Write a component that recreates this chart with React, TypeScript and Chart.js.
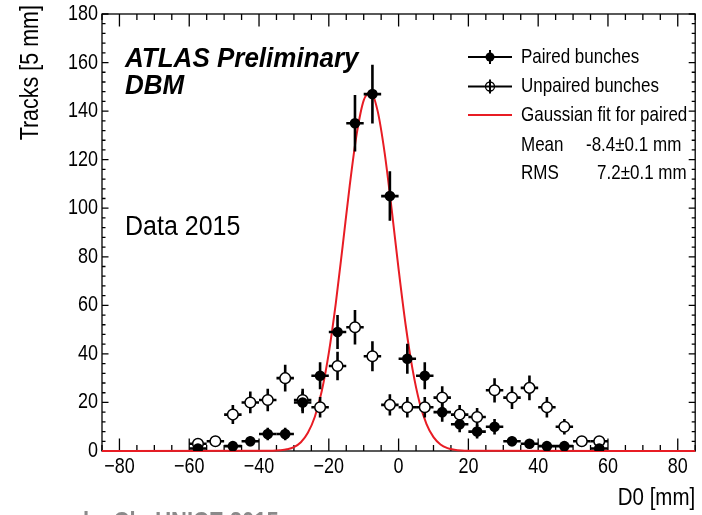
import React, { useEffect, useRef } from "react";
import { Chart, registerables } from "chart.js";

Chart.register(...registerables);

// ---- data ----
const BIN_CENTERS = [
  -57.5, -52.5, -47.5, -42.5, -37.5, -32.5, -27.5, -22.5, -17.5, -12.5, -7.5, -2.5,
  2.5, 7.5, 12.5, 17.5, 22.5, 27.5, 32.5, 37.5, 42.5, 47.5, 52.5, 57.5,
];
const BIN_HALF_WIDTH = 2.5;
const PAIRED = [1, null, 2, 4, 7, 7, 20, 31, 49, 135, 147, 105, 38, 31, 16, 11, 8, 10, 4, 3, 2, 2, null, 1];
const PAIRED_ERR = [1, null, 1.4, 2, 2.6, 2.6, 4.5, 5.6, 7, 11.6, 12.1, 10.2, 6.2, 5.6, 4, 3.3, 2.8, 3.2, 2, 1.7, 1.4, 1.4, null, 1];
const UNPAIRED = [3, 4, 15, 20, 21, 30, 21, 18, 35, 51, 39, 19, 18, 18, 22, 15, 14, 25, 22, 26, 18, 10, 4, 4];
const UNPAIRED_ERR = [1.7, 2, 3.9, 4.5, 4.6, 5.5, 4.6, 4.2, 5.9, 7.1, 6.2, 4.4, 4.2, 4.2, 4.7, 3.9, 3.7, 5, 4.7, 5.1, 4.2, 3.2, 2, 2];

const FIT_X = [-85, -36, -34, -32, -30, -28, -26, -24, -22, -20, -18, -16, -14, -12, -10, -8, -6, -4, -2, 0, 2, 4, 6, 8, 10, 12, 14, 16, 18, 20, 85];
const FIT_Y = [0, 0.1, 0.3, 0.7, 1.6, 3.6, 7.5, 14.1, 24.8, 40.4, 60.8, 84.8, 109.4, 130.6, 144.4, 147.8, 140.0, 122.8, 99.7, 74.9, 52.1, 33.6, 20.0, 11.1, 5.7, 2.7, 1.2, 0.5, 0.2, 0.1, 0];

const X_TICKS = [-80, -60, -40, -20, 0, 20, 40, 60, 80];
const Y_TICKS = [0, 20, 40, 60, 80, 100, 120, 140, 160, 180];
const X_MINOR_STEP = 5;
const Y_MINOR_STEP = 4;

const LEGEND_LABELS = ["Paired bunches", "Unpaired bunches", "Gaussian fit for paired"];
const FIT_STATS = [
  ["Mean", "-8.4\u00b10.1 mm"],
  ["RMS", "7.2\u00b10.1 mm"],
];

const FONT = "'Liberation Sans', Arial, Helvetica, sans-serif";
const RED = "rgb(232,28,36)";

function txt(
  ctx: CanvasRenderingContext2D,
  s: string,
  x: number,
  y: number,
  font: string,
  align: CanvasTextAlign = "left",
  stretch = 1.2,
  rot = 0,
  color = "#000"
) {
  ctx.save();
  ctx.translate(x, y);
  if (rot) ctx.rotate(rot);
  ctx.scale(1, stretch);
  ctx.font = font;
  ctx.textAlign = align;
  ctx.textBaseline = "middle";
  ctx.fillStyle = color;
  ctx.fillText(s, 0, 0);
  ctx.restore();
}

function drawErrorBars(chart: any) {
  const ctx = chart.ctx as CanvasRenderingContext2D;
  const xs = chart.scales.x;
  const ys = chart.scales.y;
  ctx.save();
  ctx.strokeStyle = "#000";
  ctx.lineWidth = 2.6;
  ctx.lineCap = "butt";
  const sets: [any[], any[]][] = [
    [UNPAIRED, UNPAIRED_ERR],
    [PAIRED, PAIRED_ERR],
  ];
  for (const [vals, errs] of sets) {
    vals.forEach((v: number | null, i: number) => {
      if (v === null || v === undefined) return;
      const e = errs[i] as number;
      const cx = xs.getPixelForValue(BIN_CENTERS[i]);
      const x0 = xs.getPixelForValue(BIN_CENTERS[i] - BIN_HALF_WIDTH);
      const x1 = xs.getPixelForValue(BIN_CENTERS[i] + BIN_HALF_WIDTH);
      const cy = ys.getPixelForValue(v);
      const y0 = ys.getPixelForValue(Math.max(0, v - e));
      const y1 = ys.getPixelForValue(v + e);
      ctx.beginPath();
      ctx.moveTo(x0, cy);
      ctx.lineTo(x1, cy);
      ctx.moveTo(cx, y0);
      ctx.lineTo(cx, y1);
      ctx.stroke();
    });
  }
  ctx.restore();
}

const framePlugin = {
  id: "rootFrame",
  beforeDatasetsDraw(chart: any) {
    const ctx = chart.ctx as CanvasRenderingContext2D;
    const { left, right, top, bottom } = chart.chartArea;
    const xs = chart.scales.x;
    const ys = chart.scales.y;
    ctx.save();
    ctx.strokeStyle = "#000";
    ctx.lineWidth = 1.3;
    ctx.strokeRect(left, top, right - left, bottom - top);
    ctx.beginPath();
    for (let v = xs.min; v <= xs.max + 1e-6; v += X_MINOR_STEP) {
      const r = Math.round(v);
      if (r % X_MINOR_STEP !== 0) continue;
      const px = xs.getPixelForValue(r);
      const major = X_TICKS.includes(r);
      const len = major ? 12.5 : 6;
      ctx.moveTo(px, bottom);
      ctx.lineTo(px, bottom - len);
      ctx.moveTo(px, top);
      ctx.lineTo(px, top + len);
    }
    for (let v = ys.min; v <= ys.max + 1e-6; v += Y_MINOR_STEP) {
      const py = ys.getPixelForValue(v);
      const major = Y_TICKS.includes(v);
      const len = major ? 6.5 : 3.5;
      ctx.moveTo(left, py);
      ctx.lineTo(left + len, py);
      ctx.moveTo(right, py);
      ctx.lineTo(right - len, py);
    }
    ctx.stroke();
    ctx.restore();
  },
  afterDatasetDraw(chart: any, args: any) {
    if (args.index === 2) drawErrorBars(chart);
  },
  afterDraw(chart: any) {
    const ctx = chart.ctx as CanvasRenderingContext2D;
    const { left, right, bottom } = chart.chartArea;
    const xs = chart.scales.x;
    const ys = chart.scales.y;
    for (const t of X_TICKS) {
      const lab = t < 0 ? "\u2212" + Math.abs(t) : String(t);
      txt(ctx, lab, xs.getPixelForValue(t), bottom + 16, `18px ${FONT}`, "center");
    }
    for (const t of Y_TICKS) {
      txt(ctx, String(t), left - 4, ys.getPixelForValue(t), `18px ${FONT}`, "right");
    }
    txt(ctx, "D0 [mm]", right, 498, `20.5px ${FONT}`, "right");
    txt(ctx, "Tracks [5 mm]", 31, 5, `21.5px ${FONT}`, "right", 1.2, -Math.PI / 2);

    txt(ctx, "ATLAS Preliminary", 125, 59, `italic bold 26px ${FONT}`, "left", 1.05);
    txt(ctx, "DBM", 125, 86, `italic bold 26px ${FONT}`, "left", 1.05);
    txt(ctx, "Data 2015", 125, 227, `25px ${FONT}`, "left", 1.1);

    const lx0 = 468;
    const lx1 = 512;
    const lmx = 490;
    const ly = [57, 86.5, 115];
    ctx.save();
    ctx.strokeStyle = "#000";
    ctx.lineWidth = 2;
    ctx.beginPath();
    ctx.moveTo(lx0, ly[0]);
    ctx.lineTo(lx1, ly[0]);
    ctx.moveTo(lmx, ly[0] - 7);
    ctx.lineTo(lmx, ly[0] + 7);
    ctx.stroke();
    ctx.beginPath();
    ctx.arc(lmx, ly[0], 4.5, 0, Math.PI * 2);
    ctx.fillStyle = "#000";
    ctx.fill();
    ctx.beginPath();
    ctx.moveTo(lx0, ly[1]);
    ctx.lineTo(lx1, ly[1]);
    ctx.moveTo(lmx, ly[1] - 7);
    ctx.lineTo(lmx, ly[1] + 7);
    ctx.stroke();
    ctx.beginPath();
    ctx.lineWidth = 1.3;
    ctx.arc(lmx, ly[1], 4.5, 0, Math.PI * 2);
    ctx.stroke();
    ctx.beginPath();
    ctx.strokeStyle = RED;
    ctx.lineWidth = 2;
    ctx.moveTo(lx0, ly[2]);
    ctx.lineTo(lx1, ly[2]);
    ctx.stroke();
    ctx.restore();
    LEGEND_LABELS.forEach((s, i) => txt(ctx, s, 521, ly[i], `17px ${FONT}`));
    txt(ctx, FIT_STATS[0][0], 521, 145, `17px ${FONT}`);
    txt(ctx, FIT_STATS[0][1], 586, 145, `17px ${FONT}`);
    txt(ctx, FIT_STATS[1][0], 521, 173, `17px ${FONT}`);
    txt(ctx, FIT_STATS[1][1], 597, 173, `17px ${FONT}`);

    txt(ctx, "ke Clu UNICE 2015", 83, 523, `bold 22px ${FONT}`, "left", 1.2, 0, "#8a8a8a");
  },
};

export default function App() {
  const ref = useRef<HTMLCanvasElement | null>(null);
  useEffect(() => {
    if (!ref.current) return;
    const paired = BIN_CENTERS.map((x, i) => ({ x, y: PAIRED[i] })).filter((p) => p.y !== null);
    const unpaired = BIN_CENTERS.map((x, i) => ({ x, y: UNPAIRED[i] }));
    const fit = FIT_X.map((x, i) => ({ x, y: FIT_Y[i] }));
    const chart = new Chart(ref.current, {
      type: "scatter",
      data: {
        datasets: [
          {
            label: "Paired bunches",
            data: paired as any,
            pointRadius: 5.3,
            pointBackgroundColor: "#000",
            pointBorderWidth: 0,
            showLine: false,
          },
          {
            label: "Unpaired bunches",
            data: unpaired as any,
            pointRadius: 5.3,
            pointBackgroundColor: "#fff",
            pointBorderColor: "#000",
            pointBorderWidth: 1.5,
            showLine: false,
          },
          {
            type: "line",
            label: "Gaussian fit for paired",
            data: fit as any,
            borderColor: RED,
            borderWidth: 2,
            pointRadius: 0,
            cubicInterpolationMode: "monotone",
            fill: false,
            clip: false as any,
          } as any,
        ],
      },
      options: {
        responsive: false,
        maintainAspectRatio: false,
        animation: false,
        devicePixelRatio: 1,
        layout: { padding: { left: 102, right: 2, top: 14, bottom: 64 } },
        scales: {
          x: { type: "linear", min: -85, max: 85, display: false },
          y: { type: "linear", min: 0, max: 180, display: false },
        },
        plugins: {
          legend: { display: false },
          tooltip: { enabled: false },
        },
      },
      plugins: [framePlugin],
    });
    return () => chart.destroy();
  }, []);
  return (
    <div style={{ position: "fixed", left: 0, top: 0, width: 702, height: 515, background: "#fff" }}>
      <canvas ref={ref} width={702} height={515} style={{ width: 702, height: 515, display: "block" }} />
    </div>
  );
}
